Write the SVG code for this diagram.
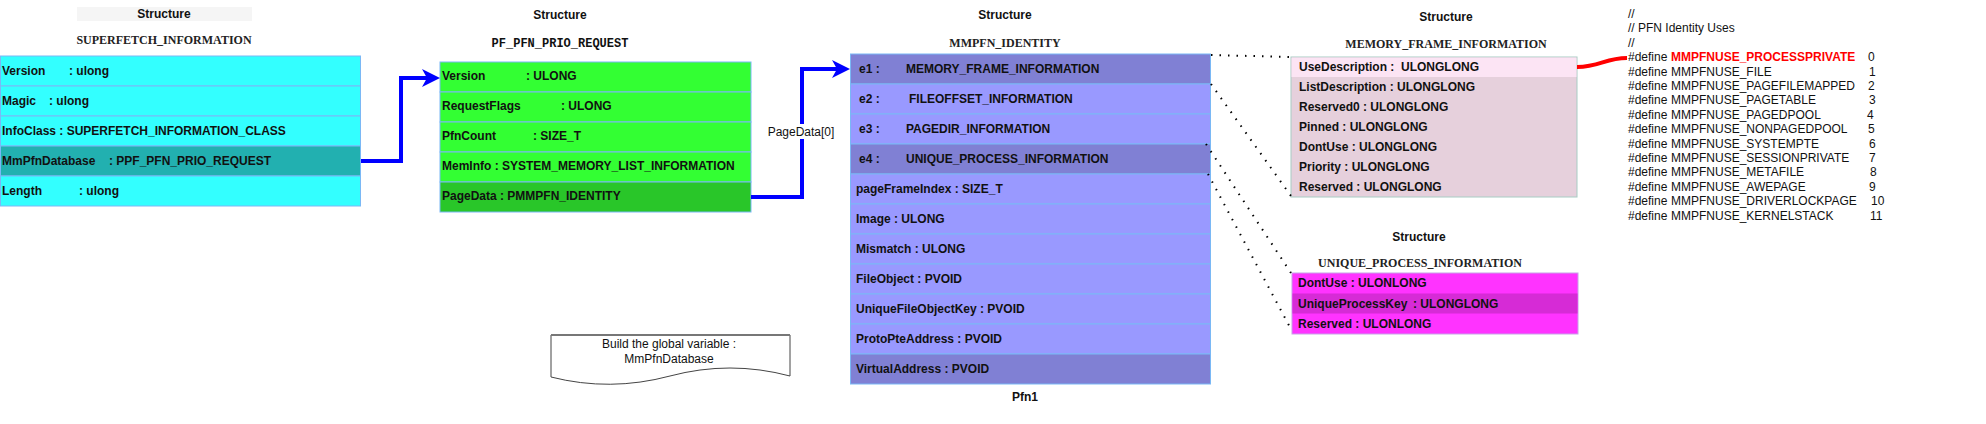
<svg xmlns="http://www.w3.org/2000/svg" width="1986" height="424" viewBox="0 0 1986 424">
<style>
text{font-family:"Liberation Sans",Arial,sans-serif;font-size:12px;fill:#111}
.b{font-weight:bold}
.ser{font-family:"Liberation Serif","Times New Roman",serif;font-weight:bold;fill:#222}
.mono{font-family:"Liberation Mono","Courier New",monospace;font-weight:bold}
.mid{text-anchor:middle}
.row{stroke:#7ab8f5;stroke-width:1}
.cy{fill:#33ffff}.cyd{fill:#22b0b0}
.gr{fill:#33ff33}.grd{fill:#29c629}
.pu{fill:#9999ff}.pud{fill:#8080d4}
.mf{fill:#e6d0dc;stroke:#a8ccc4}.mfl{fill:#fce4f4}
.up{fill:#ff33ff;stroke:#c8a0e8}.upd{fill:#d62bd6}
.arr{fill:none;stroke:#0000ff;stroke-width:4}
.head{fill:#0000ff}
.dot{fill:none;stroke:#000;stroke-width:2;stroke-dasharray:1.5 7}
</style>
<rect x="0" y="0" width="1986" height="424" fill="#fff"/>

<g id="superfetch">
<rect x="77" y="7" width="175" height="14" fill="#f5f5f5"/>
<text class="b mid" x="164" y="18">Structure</text>
<text class="ser mid" x="164" y="44">SUPERFETCH_INFORMATION</text>
<rect class="row cy" x="0.5" y="56" width="360" height="30"/>
<rect class="row cy" x="0.5" y="86" width="360" height="30"/>
<rect class="row cy" x="0.5" y="116" width="360" height="30"/>
<rect class="row cyd" x="0.5" y="146" width="360" height="30"/>
<rect class="row cy" x="0.5" y="176" width="360" height="30"/>
<text class="b" x="2" y="75">Version</text><text class="b" x="69" y="75">: ulong</text>
<text class="b" x="2" y="105">Magic</text><text class="b" x="49" y="105">: ulong</text>
<text class="b" x="2" y="135">InfoClass : SUPERFETCH_INFORMATION_CLASS</text>
<text class="b" x="2" y="165">MmPfnDatabase</text><text class="b" x="109" y="165">: PPF_PFN_PRIO_REQUEST</text>
<text class="b" x="2" y="195">Length</text><text class="b" x="79" y="195">: ulong</text>
</g>

<g id="prio_request">
<text class="b mid" x="560" y="19">Structure</text>
<text class="mono mid" x="560" y="47">PF_PFN_PRIO_REQUEST</text>
<rect class="row gr" x="440" y="62" width="311" height="30"/>
<rect class="row gr" x="440" y="92" width="311" height="30"/>
<rect class="row gr" x="440" y="122" width="311" height="30"/>
<rect class="row gr" x="440" y="152" width="311" height="30"/>
<rect class="row grd" x="440" y="182" width="311" height="30"/>
<text class="b" x="442" y="80">Version</text><text class="b" x="526" y="80">: ULONG</text>
<text class="b" x="442" y="110">RequestFlags</text><text class="b" x="561" y="110">: ULONG</text>
<text class="b" x="442" y="140">PfnCount</text><text class="b" x="533" y="140">: SIZE_T</text>
<text class="b" x="442" y="170">MemInfo : SYSTEM_MEMORY_LIST_INFORMATION</text>
<text class="b" x="442" y="200">PageData : PMMPFN_IDENTITY</text>
</g>

<g id="mmpfn_identity">
<text class="b mid" x="1005" y="19">Structure</text>
<text class="ser mid" x="1005" y="47">MMPFN_IDENTITY</text>
<rect class="row pud" x="850.5" y="54" width="360" height="30"/>
<rect class="row pu" x="850.5" y="84" width="360" height="30"/>
<rect class="row pu" x="850.5" y="114" width="360" height="30"/>
<rect class="row pud" x="850.5" y="144" width="360" height="30"/>
<rect class="row pu" x="850.5" y="174" width="360" height="30"/>
<rect class="row pu" x="850.5" y="204" width="360" height="30"/>
<rect class="row pu" x="850.5" y="234" width="360" height="30"/>
<rect class="row pu" x="850.5" y="264" width="360" height="30"/>
<rect class="row pu" x="850.5" y="294" width="360" height="30"/>
<rect class="row pu" x="850.5" y="324" width="360" height="30"/>
<rect class="row pud" x="850.5" y="354" width="360" height="30"/>
<text class="b" x="859" y="73">e1 :</text><text class="b" x="906" y="73">MEMORY_FRAME_INFORMATION</text>
<text class="b" x="859" y="103">e2 :</text><text class="b" x="909" y="103">FILEOFFSET_INFORMATION</text>
<text class="b" x="859" y="133">e3 :</text><text class="b" x="906" y="133">PAGEDIR_INFORMATION</text>
<text class="b" x="859" y="163">e4 :</text><text class="b" x="906" y="163">UNIQUE_PROCESS_INFORMATION</text>
<text class="b" x="856" y="193">pageFrameIndex : SIZE_T</text>
<text class="b" x="856" y="223">Image : ULONG</text>
<text class="b" x="856" y="253">Mismatch : ULONG</text>
<text class="b" x="856" y="283">FileObject : PVOID</text>
<text class="b" x="856" y="313">UniqueFileObjectKey : PVOID</text>
<text class="b" x="856" y="343">ProtoPteAddress : PVOID</text>
<text class="b" x="856" y="373">VirtualAddress : PVOID</text>
<text class="b mid" x="1025" y="401">Pfn1</text>
</g>

<g id="memory_frame_information">
<text class="b mid" x="1446" y="21">Structure</text>
<text class="ser mid" x="1446" y="48">MEMORY_FRAME_INFORMATION</text>
<rect class="mf" x="1291" y="57" width="286" height="140"/>
<rect class="mfl" x="1291.5" y="57.5" width="285" height="19.5"/>
<text class="b" x="1299" y="71">UseDescription :</text><text class="b" x="1401" y="71">ULONGLONG</text>
<text class="b" x="1299" y="91">ListDescription : ULONGLONG</text>
<text class="b" x="1299" y="111">Reserved0 : ULONGLONG</text>
<text class="b" x="1299" y="131">Pinned : ULONGLONG</text>
<text class="b" x="1299" y="151">DontUse : ULONGLONG</text>
<text class="b" x="1299" y="171">Priority : ULONGLONG</text>
<text class="b" x="1299" y="191">Reserved : ULONGLONG</text>
</g>

<g id="unique_process_information">
<text class="b mid" x="1419" y="241">Structure</text>
<text class="ser mid" x="1420" y="267">UNIQUE_PROCESS_INFORMATION</text>
<rect class="up" x="1292" y="273" width="286" height="61"/>
<rect class="upd" x="1292.5" y="293.5" width="285" height="20"/>
<text class="b" x="1298" y="287">DontUse : ULONLONG</text>
<text class="b" x="1298" y="308">UniqueProcessKey</text><text class="b" x="1413" y="308">: ULONGLONG</text>
<text class="b" x="1298" y="328">Reserved : ULONLONG</text>
</g>

<g id="pfn_uses">
<text x="1628" y="18">//</text>
<text x="1628" y="32.4">// PFN Identity Uses</text>
<text x="1628" y="46.8">//</text>
<text x="1628" y="61.2">#define</text><text class="b" x="1671" y="61.2" style="fill:#ff0000">MMPFNUSE_PROCESSPRIVATE</text><text x="1868" y="61.2">0</text>
<text x="1628" y="75.6">#define</text><text x="1671" y="75.6">MMPFNUSE_FILE</text><text x="1869" y="75.6">1</text>
<text x="1628" y="90">#define</text><text x="1671" y="90">MMPFNUSE_PAGEFILEMAPPED</text><text x="1868" y="90">2</text>
<text x="1628" y="104.4">#define</text><text x="1671" y="104.4">MMPFNUSE_PAGETABLE</text><text x="1869" y="104.4">3</text>
<text x="1628" y="118.8">#define</text><text x="1671" y="118.8">MMPFNUSE_PAGEDPOOL</text><text x="1867" y="118.8">4</text>
<text x="1628" y="133.2">#define</text><text x="1671" y="133.2">MMPFNUSE_NONPAGEDPOOL</text><text x="1868" y="133.2">5</text>
<text x="1628" y="147.6">#define</text><text x="1671" y="147.6">MMPFNUSE_SYSTEMPTE</text><text x="1869" y="147.6">6</text>
<text x="1628" y="162">#define</text><text x="1671" y="162">MMPFNUSE_SESSIONPRIVATE</text><text x="1869" y="162">7</text>
<text x="1628" y="176.4">#define</text><text x="1671" y="176.4">MMPFNUSE_METAFILE</text><text x="1870" y="176.4">8</text>
<text x="1628" y="190.8">#define</text><text x="1671" y="190.8">MMPFNUSE_AWEPAGE</text><text x="1869" y="190.8">9</text>
<text x="1628" y="205.2">#define</text><text x="1671" y="205.2">MMPFNUSE_DRIVERLOCKPAGE</text><text x="1871" y="205.2">10</text>
<text x="1628" y="219.6">#define</text><text x="1671" y="219.6">MMPFNUSE_KERNELSTACK</text><text x="1870" y="219.6">11</text>
</g>

<g id="note">
<path d="M551,335 H790 V376 Q730,360 670,376 Q610,392 551,377 Z" fill="#fff" stroke="#444" stroke-width="1"/>
<line x1="551" y1="335" x2="790" y2="335" stroke="#777" stroke-width="2"/>
<text class="mid" x="669" y="348">Build the global variable :</text>
<text class="mid" x="669" y="363">MmPfnDatabase</text>
</g>

<g id="connectors">
<path class="arr" d="M361,161 H401 V78 H428"/>
<path class="head" d="M440,78 L422,69 L427,78 L422,87 Z"/>
<path class="arr" d="M751,197 H802 V69 H838"/>
<path class="head" d="M850,69 L832,60 L837,69 L832,78 Z"/>
<rect x="767" y="124" width="70" height="15" fill="#fff"/>
<text class="mid" x="801" y="136">PageData[0]</text>
<path class="dot" d="M1211,55 L1291,57"/>
<path class="dot" d="M1211,84 L1291,196"/>
<path class="dot" d="M1206,144 L1291,273"/>
<path class="dot" d="M1208,174 L1292,331"/>
<path d="M1577,67 C1600,67 1605,58 1627,58" fill="none" stroke="#ff0000" stroke-width="4"/>
</g>
</svg>
